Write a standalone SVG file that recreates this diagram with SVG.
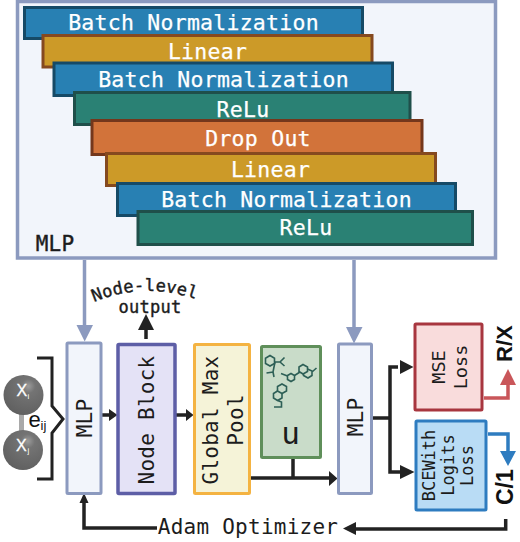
<svg xmlns="http://www.w3.org/2000/svg" width="520" height="542" viewBox="0 0 520 542">
<style>
text{font-family:"DejaVu Sans Mono","Liberation Mono",monospace}
.bar{stroke-width:3}
.blue{fill:#2880b3;stroke:#164a66}
.gold{fill:#cc9a28;stroke:#85491f}
.green{fill:#2a8174;stroke:#1f4f4a}
.orange{fill:#d2733a;stroke:#74371c}
.lab{fill:#fff;stroke:#fff;stroke-width:.25px;font-size:21.500px;letter-spacing:.25px;text-anchor:middle}
.dark{fill:#1c1c1c;text-anchor:middle}
.s20{font-size:21px;letter-spacing:.25px}
.s17{font-size:18.500px}
.s16{font-size:17px}
.k{fill:none;stroke:#222;stroke-width:3.500}
.mol{fill:none;stroke:#2d5f56;stroke-width:1.600}
.sym{font-family:"Liberation Sans",Arial,sans-serif}
</style>
<defs>
<radialGradient id="ball" cx=".62" cy=".28" r=".8">
<stop offset="0" stop-color="#9c9c9c"/><stop offset=".22" stop-color="#747474"/><stop offset="1" stop-color="#5e5e5e"/>
</radialGradient>
</defs>

<g id="mlp-panel">
<rect x="17.500" y="1.500" width="478" height="256.500" fill="#f2f5fb" stroke="#8c9abf" stroke-width="3.500"/>
<rect class="bar blue" x="24.500" y="7.500" width="338" height="31"/><text class="lab" x="193.500" y="30">Batch Normalization</text>
<rect class="bar gold" x="43" y="35.500" width="329" height="31.500"/><text class="lab" x="207.500" y="59">Linear</text>
<rect class="bar blue" x="54" y="63" width="338.500" height="32.500"/><text class="lab" x="223.500" y="87">Batch Normalization</text>
<rect class="bar green" x="74.500" y="92.500" width="335.500" height="32"/><text class="lab" x="243" y="117">ReLu</text>
<rect class="bar orange" x="92" y="120.500" width="330" height="34"/><text class="lab" x="258" y="146">Drop Out</text>
<rect class="bar gold" x="106.500" y="153.500" width="329" height="32"/><text class="lab" x="270.500" y="177">Linear</text>
<rect class="bar blue" x="117.500" y="183.500" width="338" height="32"/><text class="lab" x="286.500" y="207">Batch Normalization</text>
<rect class="bar green" x="138" y="211.500" width="334.500" height="33"/><text class="lab" x="306" y="235">ReLu</text>
<text class="dark s20" x="55" y="251" stroke="#1c1c1c" stroke-width=".4">MLP</text>
</g>

<g id="connectors">
<path d="M84.500 260V326M354 260V328" fill="none" stroke="#8c9abf" stroke-width="3.500"/>
<path d="M76.500 325H93L84.700 341.500ZM346 327H362.500L354 343.500Z" fill="#8c9abf"/>
<path class="k" d="M102 415H111M176 415H187M146 339V329M251 478H331M293 459V478M372 418H390M398 367H390V472H401"/>
<path d="M109 409L117.500 415L109 421ZM186 409L193.500 415L186 421ZM138 330L146 314L154 330ZM329 471L337.500 478.500L329 486ZM400 360L413.500 367L400 374ZM400 465L414.500 472L400 479Z" fill="#222"/>
<path d="M484 398H508V383" fill="none" stroke="#c9565a" stroke-width="3.500"/>
<path d="M500 385L508 369L516 385Z" fill="#c9565a"/>
<path d="M488 434H508V452" fill="none" stroke="#2e7cc0" stroke-width="3.500"/>
<path d="M500 451H516L508 466Z" fill="#2e7cc0"/>
<path class="k" d="M505.700 519V529H354"/>
<path d="M356 522V535L343 528.500Z" fill="#222"/>
<path class="k" d="M157 528H84V502"/>
<path d="M79.500 503L84 493L88.500 503Z" fill="#222"/>
</g>

<g id="edge-input">
<path d="M37 358H52V406L63 419L52 433V479H37" fill="none" stroke="#222" stroke-width="3"/>
<rect x="19" y="410" width="5" height="30" fill="#a9a9a9"/>
<circle cx="23.500" cy="395" r="20" fill="url(#ball)"/>
<circle cx="23" cy="450" r="20" fill="url(#ball)"/>
<text class="sym" x="16.500" y="396" font-size="16" fill="#fff" stroke="#fff" stroke-width=".3">X</text>
<text class="sym" x="27.500" y="398.500" font-size="8" fill="#fff">i</text>
<text class="sym" x="16" y="451" font-size="16" fill="#fff" stroke="#fff" stroke-width=".3">X</text>
<text class="sym" x="27.500" y="453" font-size="8" fill="#fff">j</text>
<text class="sym" x="28.500" y="427" font-size="22" fill="#111">e</text>
<text class="sym" x="40.500" y="430" font-size="13" fill="#111">ij</text>
</g>

<g id="mlp-1">
<rect x="67" y="343" width="34" height="150.500" rx="1" fill="#f2f5fb" stroke="#8c9abf" stroke-width="3"/>
<text class="dark s20" transform="translate(91.500 418) rotate(-90)">MLP</text>
</g>

<g id="node-block">
<rect x="118" y="344.500" width="57" height="149" rx="1" fill="#e4e2f6" stroke="#5d5ea6" stroke-width="3.500"/>
<text class="dark s20" transform="translate(154 420) rotate(-90)">Node Block</text>
</g>

<g id="node-output-label">
<path id="arc" d="M94 302Q145 281 198 300" fill="none"/>
<text font-size="17" fill="#1c1c1c" stroke="#1c1c1c" stroke-width=".4" letter-spacing=".2"><textPath href="#arc">Node-level</textPath></text>
<text class="dark" x="150" y="312.500" font-size="17" stroke="#1c1c1c" stroke-width=".4" letter-spacing=".3">output</text>
</g>

<g id="global-max-pool">
<rect x="194.500" y="344.500" width="55" height="149" rx="1" fill="#f5f3d8" stroke="#f4b342" stroke-width="3"/>
<text class="dark s20" transform="translate(218 420) rotate(-90)">Global Max</text>
<text class="dark s20" transform="translate(243 420) rotate(-90)">Pool</text>
</g>

<g id="u-block">
<rect x="261.500" y="346.500" width="59" height="111" rx="1" fill="#c9dcc9" stroke="#5f8f5a" stroke-width="3"/>
<g class="mol">
<path d="M270 355.500L274.500 358.200V363.500L270 366L265.500 363.500V358.200Z"/>
<path d="M274.500 362H280L284.500 357.500M280 362L284.500 366M275 362L273 372L266.500 373M273 372L274 377"/>
<path d="M291 373.500L294.500 375.500V379.500L291 381.500L287.500 379.500V375.500Z"/>
<path d="M281 373.500L287.500 376M294.500 375.500L300 372"/>
<path d="M303 364.500L307.500 367V371.500L303 374L299 371.500V367Z"/>
<path d="M307.500 369L312 371V375.500L308 378L303.500 375.500V374M312 372L316.500 368"/>
<path d="M282 384L286.500 386.500V391L282 393.500L277.500 391V386.500Z"/>
<path d="M277.500 391L273.500 393.500V398L277.500 400.500L282 398V393.500M277.500 400.500L281.500 402L281.500 407H274"/>
</g>
<text class="dark" x="290.500" y="444" font-size="31">u</text>
</g>

<g id="mlp-2">
<rect x="338.500" y="344" width="33" height="149.500" rx="1" fill="#f2f5fb" stroke="#8c9abf" stroke-width="3"/>
<text class="dark s20" transform="translate(363 417) rotate(-90)">MLP</text>
</g>

<g id="mse-loss">
<rect x="415" y="324" width="67" height="86" rx="1" fill="#f9dcdc" stroke="#a8363f" stroke-width="3"/>
<text class="dark s17" transform="translate(445 367) rotate(-90)">MSE</text>
<text class="dark s17" transform="translate(467 367) rotate(-90)">Loss</text>
</g>

<g id="bce-loss">
<rect x="416" y="421" width="70" height="89" rx="1" fill="#b9dcf5" stroke="#2e7cc0" stroke-width="3"/>
<text class="dark s16" transform="translate(435 465.500) rotate(-90)">BCEWith</text>
<text class="dark s16" transform="translate(454 465) rotate(-90)">Logits</text>
<text class="dark s16" transform="translate(473 465.500) rotate(-90)">Loss</text>
</g>

<g id="outputs">
<text class="sym" transform="translate(512 362) rotate(-90)" font-size="22" font-weight="700" fill="#111">R/X</text>
<text class="sym" transform="translate(512.500 505) rotate(-90)" font-size="23" font-weight="700" fill="#111">C/1</text>
<text class="dark s20" x="248" y="534">Adam Optimizer</text>
</g>
</svg>
